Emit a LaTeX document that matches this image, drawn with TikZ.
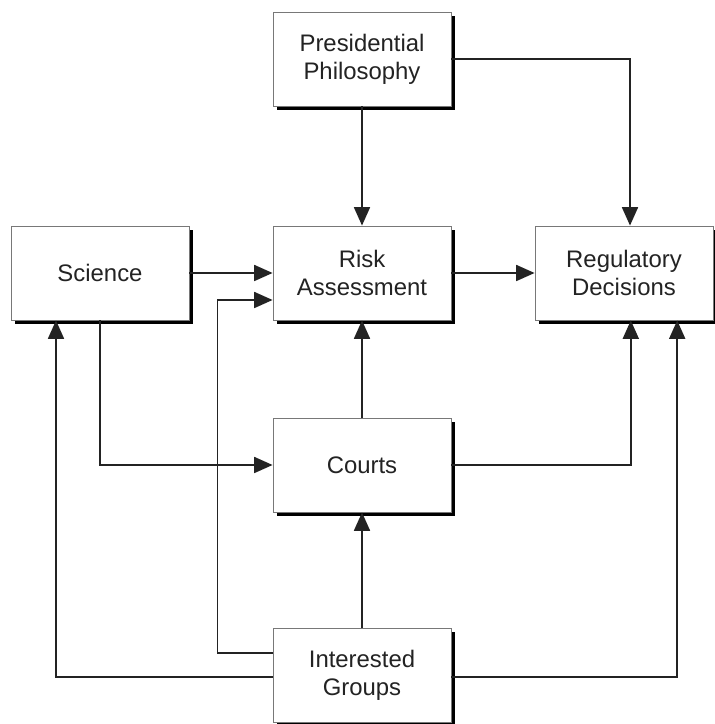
\documentclass[tikz,border=0pt]{standalone}
\usepackage{fontspec}
\setmainfont{Liberation Sans}
\usetikzlibrary{arrows.meta,shadows}
\definecolor{ink}{RGB}{35,35,35}
\definecolor{edge}{RGB}{120,120,120}

\tikzset{
  box/.style={draw=edge,line width=0.6pt,fill=white,
    minimum width=4.45cm,minimum height=2.35cm,align=center,
    text=ink,font=\fontsize{17}{20}\selectfont,
    drop shadow={shadow xshift=0.1cm,shadow yshift=-0.1cm,
      fill=black,opacity=1}},
  flow/.style={draw=ink,line width=1.2pt,
    -{Triangle[length=0.46cm,width=0.4cm]}}
}

\begin{document}
\begin{tikzpicture}
\useasboundingbox (0,0) rectangle (17.875,18.1);

% boxes
\node[box] (pres)    at (9.05,16.625) {Presidential\\Philosophy};
\node[box] (science) at (2.5,11.275)  {Science};
\node[box] (risk)    at (9.05,11.275) {Risk\\Assessment};
\node[box] (reg)     at (15.6,11.275) {Regulatory\\Decisions};
\node[box] (courts)  at (9.05,6.475)  {Courts};
\node[box] (groups)  at (9.05,1.225)  {Interested\\Groups};

% connectors
\draw[flow] (pres.south) -- (risk.north);
\draw[flow] (pres.east) -| ([xshift=0.15cm]reg.north);
\draw[flow] (science.east) -- (risk.west);
\draw[flow] (risk.east) -- (reg.west);
\draw[flow] (courts.north) -- (risk.south);
\draw[flow] (groups.north) -- (courts.south);
\draw[flow] (science.south) |- (courts.west);
\draw[flow] (courts.east) -| ([xshift=0.17cm]reg.south);
\draw[flow] ([yshift=0.55cm]groups.west) -- ++(-1.375,0)
  |- ([yshift=-0.675cm]risk.west);
\draw[flow] ([yshift=-0.05cm]groups.west) -| ([xshift=-1.1cm]science.south);
\draw[flow] ([yshift=-0.05cm]groups.east) -| ([xshift=1.33cm]reg.south);
\end{tikzpicture}
\end{document}
